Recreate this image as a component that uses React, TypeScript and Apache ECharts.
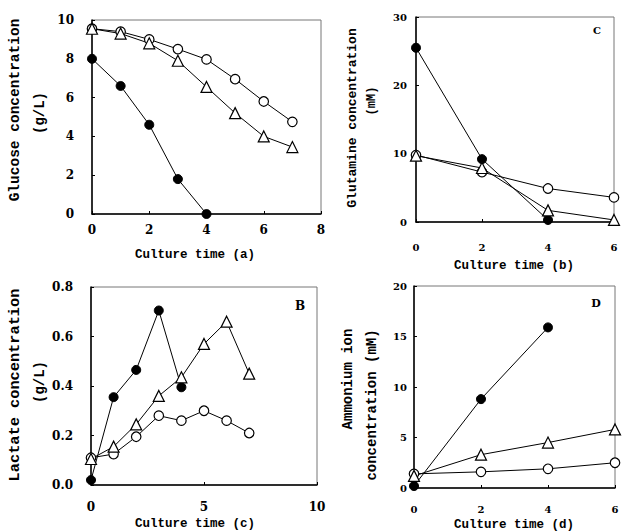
import React, { useEffect, useRef } from "react";
import * as echarts from "echarts";

// Panel A: glucose (g/L)
const glucoseX = [0, 1, 2, 3, 4, 5, 6, 7];
const glucoseFilled = [8.0, 6.6, 4.6, 1.8, 0.0];
const glucoseOpen = [9.55, 9.4, 9.0, 8.5, 7.97, 6.95, 5.8, 4.75];
const glucoseTri = [9.55, 9.3, 8.8, 7.9, 6.55, 5.2, 4.0, 3.45];

// Panel C: glutamine (mM)
const glutX = [0, 2, 4, 6];
const glutFilled = [25.5, 9.2, 0.3];
const glutOpen = [9.8, 7.3, 4.9, 3.6];
const glutTri = [9.7, 7.9, 1.7, 0.3];

// Panel B: lactate (g/L)
const lactX = [0, 1, 2, 3, 4, 5, 6, 7];
const lactFilled = [0.02, 0.355, 0.465, 0.705, 0.395];
const lactOpen = [0.11, 0.125, 0.195, 0.28, 0.26, 0.3, 0.26, 0.21];
const lactTri = [0.105, 0.155, 0.245, 0.36, 0.435, 0.57, 0.66, 0.45];

// Panel D: ammonium (mM)
const ammX = [0, 2, 4, 6];
const ammFilled = [0.2, 8.8, 15.9];
const ammOpen = [1.4, 1.6, 1.9, 2.5];
const ammTri = [1.2, 3.3, 4.5, 5.8];

const FONT = "DejaVu Serif";
const TITLE_FONT = "Liberation Mono";

const zip = (xs: number[], ys: number[]) => ys.map((y, i) => [xs[i], y]);

function seriesFor(idx: number, xs: number[], filled: number[], open: number[], tri: number[]) {
  const base = {
    type: "line",
    xAxisIndex: idx,
    yAxisIndex: idx,
    clip: false,
    lineStyle: { color: "#000", width: 1 },
    z: 3,
  };
  return [
    {
      ...base,
      name: "filled",
      data: zip(xs, filled),
      symbol: "circle",
      symbolSize: 9,
      itemStyle: { color: "#000", borderColor: "#000", borderWidth: 1 },
    },
    {
      ...base,
      name: "open",
      data: zip(xs, open),
      symbol: "circle",
      symbolSize: 9.5,
      itemStyle: { color: "#fff", borderColor: "#000", borderWidth: 1.2 },
    },
    {
      ...base,
      name: "triangle",
      data: zip(xs, tri),
      symbol: "triangle",
      symbolSize: 11,
      itemStyle: { color: "#fff", borderColor: "#000", borderWidth: 1.2 },
    },
  ];
}

function yTitle(text: string, x: number, y: number, size: number) {
  return {
    type: "text",
    x,
    y,
    rotation: Math.PI / 2,
    style: {
      text,
      font: `bold ${size}px "${TITLE_FONT}"`,
      fill: "#000",
      align: "center",
      verticalAlign: "middle",
    },
  };
}

function plainText(text: string, x: number, y: number, size: number, family = TITLE_FONT) {
  return {
    type: "text",
    x,
    y,
    style: {
      text,
      font: `bold ${size}px "${family}"`,
      fill: "#000",
      align: "center",
      verticalAlign: "middle",
    },
  };
}

export default function App() {
  const ref = useRef<HTMLDivElement>(null);
  useEffect(() => {
    if (!ref.current) return;
    const chart = echarts.init(ref.current, undefined, { renderer: "svg" });

    const grids = [
      { left: 92, top: 20, width: 229, height: 194 },
      { left: 416, top: 17, width: 198, height: 205 },
      { left: 91, top: 287, width: 226, height: 198 },
      { left: 414, top: 286, width: 201, height: 202 },
    ].map((g) => ({ ...g, show: true, borderColor: "#777", borderWidth: 1, containLabel: false }));

    const axisCommon = (fs: number) => ({
      axisLine: { show: true, lineStyle: { color: "#000", width: 1.5 } },
      axisTick: { show: true, inside: true, length: 3, lineStyle: { color: "#000" } },
      splitLine: { show: false },
      axisLabel: { color: "#000", fontFamily: FONT, fontWeight: "bold", fontSize: fs },
    });

    const xAxes = [
      { min: 0, max: 8, interval: 2, fs: 12, margin: 10 },
      { min: 0, max: 6, interval: 2, fs: 10, margin: 20 },
      { min: 0, max: 10, interval: 5, fs: 12, margin: 16 },
      { min: 0, max: 6, interval: 2, fs: 10, margin: 16 },
    ].map((a, i) => {
      const c = axisCommon(a.fs);
      return {
        type: "value",
        gridIndex: i,
        min: a.min,
        max: a.max,
        interval: a.interval,
        ...c,
        axisLabel: { ...c.axisLabel, margin: a.margin },
      };
    });

    const yAxes = [
      { min: 0, max: 10, interval: 2, fs: 12, margin: 18, fmt: (v: number) => String(v) },
      { min: 0, max: 30, interval: 10, fs: 10, margin: 9, fmt: (v: number) => String(v) },
      { min: 0, max: 0.8, interval: 0.2, fs: 12, margin: 18, fmt: (v: number) => v.toFixed(1) },
      { min: 0, max: 20, interval: 5, fs: 10, margin: 7, fmt: (v: number) => String(v) },
    ].map((a, i) => {
      const c = axisCommon(a.fs);
      return {
        type: "value",
        gridIndex: i,
        min: a.min,
        max: a.max,
        interval: a.interval,
        ...c,
        axisLabel: { ...c.axisLabel, margin: a.margin, formatter: a.fmt },
      };
    });

    chart.setOption({
      animation: false,
      backgroundColor: "#fff",
      grid: grids,
      xAxis: xAxes,
      yAxis: yAxes,
      series: [
        ...seriesFor(0, glucoseX, glucoseFilled, glucoseOpen, glucoseTri),
        ...seriesFor(1, glutX, glutFilled, glutOpen, glutTri),
        ...seriesFor(2, lactX, lactFilled, lactOpen, lactTri),
        ...seriesFor(3, ammX, ammFilled, ammOpen, ammTri),
      ],
      graphic: [
        yTitle("Glucose concentration", 15, 110, 14.5),
        yTitle("(g/L)", 40, 113, 14),
        plainText("Culture time (a)", 195, 255, 12.5),

        yTitle("Glutamine concentration", 352, 118, 13),
        yTitle("(mM)", 372, 101, 12),
        plainText("Culture time (b)", 514, 266, 12.5),
        plainText("C", 597, 30, 10, FONT),

        yTitle("Lactate concentration", 15, 385, 15.3),
        yTitle("(g/L)", 40, 382, 14),
        plainText("Culture time (c)", 195, 524, 12.5),
        plainText("B", 300, 306, 12, FONT),

        yTitle("Ammonium ion", 348, 379, 14),
        yTitle("concentration (mM)", 372, 405, 14),
        plainText("Culture time (d)", 514, 525, 12.5),
        plainText("D", 596, 303, 11, FONT),
      ],
    });
    return () => chart.dispose();
  }, []);
  return (
    <div
      ref={ref}
      style={{ position: "fixed", left: 0, top: 0, width: 622, height: 532, background: "#fff" }}
    />
  );
}
